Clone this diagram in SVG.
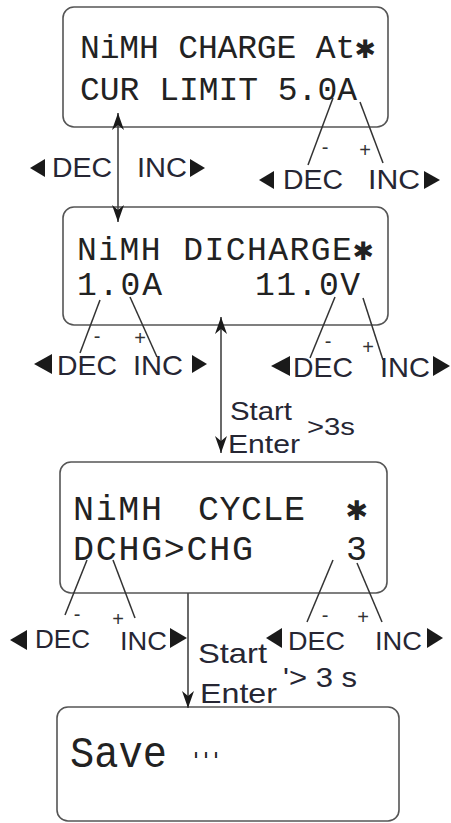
<svg xmlns="http://www.w3.org/2000/svg" width="451" height="823" viewBox="0 0 451 823">
<style>
.box{fill:#fff;stroke:#555;stroke-width:1.6}
.lcd{font-family:"Liberation Mono","DejaVu Sans Mono",monospace;fill:#222}
.lbl{font-family:"Liberation Sans",Arial,sans-serif;fill:#262633}
.pm{font-family:"Liberation Sans",Arial,sans-serif;fill:#333;font-size:20px;text-anchor:middle}
.tri{fill:#1a1a1a}
.ln{stroke:#333;stroke-width:1.5;fill:none}
.arr{stroke:#444;stroke-width:1.6;fill:none}
</style>
<defs>
<marker id="ah" viewBox="0 0 17 12" refX="17" refY="6" markerWidth="17" markerHeight="12" markerUnits="userSpaceOnUse" orient="auto-start-reverse">
<path d="M0,0 L17,6 L0,12 L5,6 z" fill="#1a1a1a"/>
</marker>
</defs>
<rect width="451" height="823" fill="#fff"/>

<g id="node-charge">
<rect class="box" x="63" y="7" width="325" height="120" rx="11"/>
<text class="lcd" x="80" y="58" font-size="33" textLength="295" lengthAdjust="spacing">NiMH CHARGE At✱</text>
<text class="lcd" x="80" y="100" font-size="33" textLength="277" lengthAdjust="spacing">CUR LIMIT 5.0A</text>
</g>

<g id="node-discharge">
<rect class="box" x="63" y="207" width="325" height="118" rx="11"/>
<text class="lcd" x="77" y="260" font-size="33" textLength="296" lengthAdjust="spacing">NiMH DICHARGE✱</text>
<text class="lcd" x="77" y="295" font-size="33" textLength="85" lengthAdjust="spacing">1.0A</text>
<text class="lcd" x="255" y="295" font-size="33" textLength="105" lengthAdjust="spacing">11.0V</text>
</g>

<g id="node-cycle">
<rect class="box" x="60" y="462" width="327" height="131" rx="11"/>
<text class="lcd" x="73" y="520" font-size="35" textLength="89" lengthAdjust="spacing">NiMH</text>
<text class="lcd" x="198" y="520" font-size="35" textLength="107" lengthAdjust="spacing">CYCLE</text>
<text class="lcd" x="346" y="520" font-size="35">✱</text>
<text class="lcd" x="73" y="560" font-size="35" textLength="180" lengthAdjust="spacing">DCHG&gt;CHG</text>
<text class="lcd" x="346" y="560" font-size="35">3</text>
</g>

<g id="node-save">
<rect class="box" x="57" y="707" width="342" height="114" rx="11"/>
<text class="lcd" x="70" y="767" font-size="44" textLength="97" lengthAdjust="spacingAndGlyphs">Save</text>
<text class="lcd" x="191" y="766" font-size="40" textLength="30" lengthAdjust="spacingAndGlyphs">···</text>
</g>

<g id="connectors">
<line class="arr" x1="118" y1="113" x2="118" y2="222" marker-start="url(#ah)" marker-end="url(#ah)"/>
<line class="arr" x1="221" y1="317" x2="221" y2="453" marker-start="url(#ah)" marker-end="url(#ah)"/>
<line class="arr" x1="188" y1="593" x2="188" y2="708" marker-end="url(#ah)"/>
<line class="ln" x1="333" y1="98" x2="308" y2="165"/>
<line class="ln" x1="360" y1="102" x2="383" y2="163"/>
<line class="ln" x1="100" y1="300" x2="80" y2="353"/>
<line class="ln" x1="130" y1="297" x2="157" y2="357"/>
<line class="ln" x1="335" y1="297" x2="310" y2="358"/>
<line class="ln" x1="363" y1="298" x2="383" y2="360"/>
<line class="ln" x1="87" y1="560" x2="65" y2="615"/>
<line class="ln" x1="113" y1="560" x2="135" y2="618"/>
<line class="ln" x1="333" y1="560" x2="307" y2="622"/>
<line class="ln" x1="357" y1="563" x2="382" y2="622"/>
</g>

<g id="keys-1">
<polygon class="tri" points="30,168 45,159 45,177"/>
<text class="lbl" x="52" y="177" font-size="27" textLength="60" lengthAdjust="spacingAndGlyphs">DEC</text>
<text class="lbl" x="137" y="177" font-size="27" textLength="50" lengthAdjust="spacingAndGlyphs">INC</text>
<polygon class="tri" points="205,168 190,159 190,177"/>
</g>

<g id="keys-2">
<text class="pm" x="325" y="154">-</text>
<text class="pm" x="365" y="157">+</text>
<polygon class="tri" points="259,180 274,171 274,189"/>
<text class="lbl" x="283" y="189" font-size="27" textLength="60" lengthAdjust="spacingAndGlyphs">DEC</text>
<text class="lbl" x="368" y="189" font-size="27" textLength="52" lengthAdjust="spacingAndGlyphs">INC</text>
<polygon class="tri" points="440,180 424,171 424,189"/>
</g>

<g id="keys-3">
<text class="pm" x="97" y="343">-</text>
<text class="pm" x="140" y="345">+</text>
<polygon class="tri" points="34,364 52,354 52,374"/>
<text class="lbl" x="57" y="375" font-size="28" textLength="60" lengthAdjust="spacingAndGlyphs">DEC</text>
<text class="lbl" x="133" y="375" font-size="28" textLength="50" lengthAdjust="spacingAndGlyphs">INC</text>
<polygon class="tri" points="207,364 192,355 192,373"/>
</g>

<g id="keys-4">
<text class="pm" x="328" y="348">-</text>
<text class="pm" x="368" y="354">+</text>
<polygon class="tri" points="271,366 290,356 290,376"/>
<text class="lbl" x="293" y="377" font-size="28" textLength="60" lengthAdjust="spacingAndGlyphs">DEC</text>
<text class="lbl" x="380" y="377" font-size="28" textLength="50" lengthAdjust="spacingAndGlyphs">INC</text>
<polygon class="tri" points="450,366 433,356 433,376"/>
</g>

<g id="start-1">
<text class="lbl" x="230" y="420" font-size="25" textLength="62" lengthAdjust="spacingAndGlyphs">Start</text>
<text class="lbl" x="307" y="435" font-size="23" textLength="48" lengthAdjust="spacingAndGlyphs">&gt;3s</text>
<text class="lbl" x="228" y="453" font-size="25" textLength="72" lengthAdjust="spacingAndGlyphs">Enter</text>
</g>

<g id="keys-5">
<text class="pm" x="77" y="621">-</text>
<text class="pm" x="118" y="626">+</text>
<polygon class="tri" points="10,640 27,630 27,650"/>
<text class="lbl" x="35" y="648" font-size="25" textLength="55" lengthAdjust="spacingAndGlyphs">DEC</text>
<text class="lbl" x="120" y="650" font-size="25" textLength="47" lengthAdjust="spacingAndGlyphs">INC</text>
<polygon class="tri" points="187,638 170,628 170,648"/>
</g>

<g id="keys-6">
<text class="pm" x="325" y="622">-</text>
<text class="pm" x="363" y="624">+</text>
<polygon class="tri" points="266,638 282,628 282,648"/>
<text class="lbl" x="288" y="650" font-size="26" textLength="57" lengthAdjust="spacingAndGlyphs">DEC</text>
<text class="lbl" x="375" y="650" font-size="26" textLength="47" lengthAdjust="spacingAndGlyphs">INC</text>
<polygon class="tri" points="443,638 427,628 427,648"/>
</g>

<g id="start-2">
<text class="lbl" x="198" y="663" font-size="28" textLength="69" lengthAdjust="spacingAndGlyphs">Start</text>
<text class="lbl" x="283" y="687" font-size="27" textLength="74" lengthAdjust="spacingAndGlyphs">'&gt; 3 s</text>
<text class="lbl" x="200" y="703" font-size="28" textLength="77" lengthAdjust="spacingAndGlyphs">Enter</text>
</g>
</svg>
